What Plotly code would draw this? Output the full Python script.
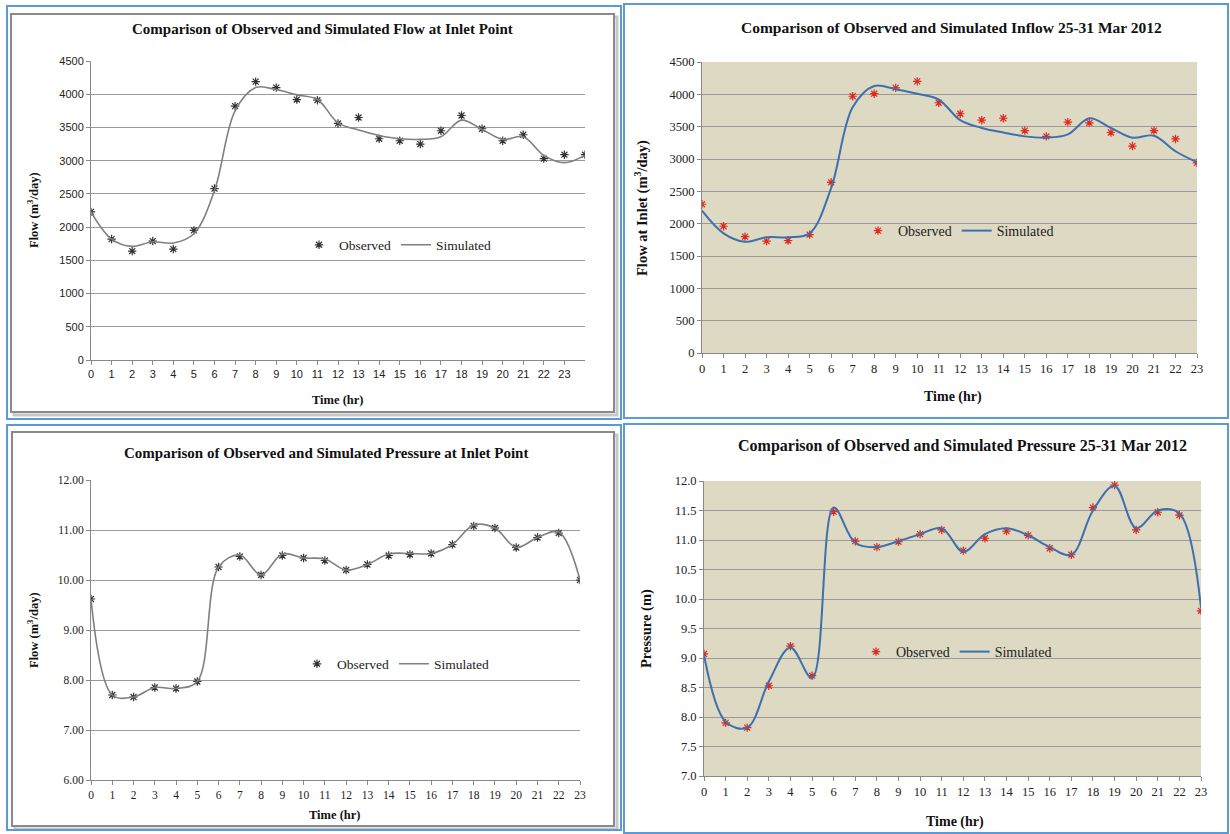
import plotly.graph_objects as go

W, H = 1230, 834

# ---------------- data ----------------
hours_p1 = list(range(0, 25))
flow1_obs = [2230, 1820, 1640, 1790, 1670, 1950, 2580, 3820, 4190, 4100, 3920, 3910,
             3560, 3650, 3330, 3300, 3250, 3450, 3680, 3480, 3300, 3390, 3030, 3090, 3090]
flow1_sim = [2230, 1820, 1710, 1780, 1760, 1900, 2550, 3750, 4100, 4070, 3990, 3920,
             3570, 3460, 3380, 3330, 3320, 3360, 3610, 3470, 3320, 3360, 3080, 2970, 3080]

hours = list(range(0, 24))
flow2_obs = [2300, 1960, 1800, 1730, 1740, 1830, 2640, 3970, 4010, 4100, 4200, 3870,
             3700, 3600, 3630, 3440, 3350, 3570, 3560, 3410, 3200, 3440, 3310, 2940]
flow2_sim = [2200, 1850, 1720, 1790, 1790, 1850, 2550, 3800, 4130, 4080, 4010, 3920,
             3600, 3480, 3410, 3350, 3330, 3380, 3630, 3480, 3330, 3360, 3120, 2950]

pres1_obs = [9.62, 7.70, 7.66, 7.85, 7.83, 7.97, 10.26, 10.47, 10.10, 10.49, 10.44, 10.39,
             10.20, 10.31, 10.49, 10.51, 10.53, 10.71, 11.08, 11.04, 10.65, 10.85, 10.94, 10.00]
pres1_sim = [9.62, 7.70, 7.66, 7.85, 7.83, 7.97, 10.26, 10.50, 10.10, 10.52, 10.44, 10.42,
             10.20, 10.31, 10.52, 10.53, 10.53, 10.71, 11.10, 11.04, 10.65, 10.85, 10.96, 10.00]

pres2_obs = [9.07, 7.90, 7.82, 8.53, 9.20, 8.70, 11.48, 10.98, 10.88, 10.97, 11.10, 11.17,
             10.82, 11.03, 11.15, 11.08, 10.86, 10.75, 11.55, 11.93, 11.17, 11.47, 11.42, 9.80]
pres2_sim = [9.05, 7.92, 7.82, 8.60, 9.18, 8.66, 11.55, 10.95, 10.88, 10.98, 11.10, 11.20,
             10.80, 11.10, 11.20, 11.08, 10.88, 10.75, 11.50, 11.92, 11.20, 11.50, 11.45, 9.85]

titles = ["Comparison of Observed and Simulated Flow at Inlet Point",
          "Comparison of Observed and Simulated Inflow 25-31 Mar 2012",
          "Comparison of Observed and Simulated Pressure at Inlet Point",
          "Comparison of Observed and Simulated Pressure 25-31 Mar 2012"]
ytitles = ["Flow (m<sup>3</sup>/day)", "Flow at Inlet (m<sup>3</sup>/day)",
           "Flow (m<sup>3</sup>/day)", "Pressure (m)"]
xtitle = "Time (hr)"


def px(x):
    return x / W


def py(y):
    return 1 - y / H


SERIF = "Liberation Serif"
SANS = "Liberation Sans"
GRAY_LINE = "#7F7F7F"
BLUE_LINE = "#3E6FAE"
RED = "#E0281E"
TAN = "#DDD9C3"
LIGHT = "#F2F2F2"

fig = go.Figure()

panels = [
    dict(x=hours_p1, obs=flow1_obs, sim=flow1_sim, xr=[0, 24], yr=[0, 4500], dt=500,
         dom_x=(91, 585), dom_y=(61, 360), bg=LIGHT, lc=GRAY_LINE, mc="#333333", lw=1.6,
         tickfont=SANS, tfs=11, fmt="d", leg=(299, 245), lfs=13.5,
         ts=15, yts=12.5, xts=12.5),
    dict(x=hours, obs=flow2_obs, sim=flow2_sim, xr=[0, 23], yr=[0, 4500], dt=500,
         dom_x=(702, 1197), dom_y=(62, 353), bg=TAN, lc=BLUE_LINE, mc=RED, lw=2,
         tickfont=SERIF, tfs=12.5, fmt="d", leg=(858, 231), lfs=14,
         ts=15.5, yts=14.5, xts=14),
    dict(x=hours, obs=pres1_obs, sim=pres1_sim, xr=[0, 23], yr=[6, 12], dt=1,
         dom_x=(91, 580), dom_y=(480, 780), bg=LIGHT, lc=GRAY_LINE, mc="#333333", lw=1.6,
         tickfont=SERIF, tfs=11.5, fmt=".2f", leg=(297, 664), lfs=13.5,
         ts=15, yts=12.5, xts=12.5),
    dict(x=hours, obs=pres2_obs, sim=pres2_sim, xr=[0, 23], yr=[7, 12], dt=0.5,
         dom_x=(704, 1201), dom_y=(481, 776), bg=TAN, lc=BLUE_LINE, mc=RED, lw=2,
         tickfont=SERIF, tfs=12.5, fmt=".1f", leg=(856, 652), lfs=14,
         ts=16, yts=14.5, xts=14),
]

title_pos = [(322, 29), (951, 27), (326, 453), (962, 446)]
ytitle_pos = [(33, 210), (641, 208), (33, 630), (646, 628)]
xtitle_pos = [(338, 400), (953, 397), (335, 815), (955, 822)]

for i, p in enumerate(panels):
    n = "" if i == 0 else str(i + 1)
    legname = "legend" if i == 0 else "legend" + str(i + 1)
    fig.add_trace(go.Scatter(
        x=p["x"], y=p["obs"], mode="markers", name="Observed",
        marker=dict(symbol="asterisk-open", size=7, color=p["mc"],
                    line=dict(color=p["mc"], width=1.2)),
        xaxis="x" + n, yaxis="y" + n, legend=legname))
    fig.add_trace(go.Scatter(
        x=p["x"], y=p["sim"], mode="lines", name="Simulated",
        line=dict(color=p["lc"], width=p["lw"], shape="spline", smoothing=1.0),
        xaxis="x" + n, yaxis="y" + n, legend=legname))

    fig.layout["xaxis" + n] = dict(
        domain=[px(p["dom_x"][0]), px(p["dom_x"][1])], range=p["xr"],
        anchor="y" + n, tickvals=list(range(0, 24)), ticks="outside", ticklen=4,
        tickcolor="#888888", showline=True, linecolor="#888888", linewidth=1,
        showgrid=False, zeroline=False, fixedrange=True, automargin=False,
        tickfont=dict(family=p["tickfont"], size=p["tfs"], color="#222222"))
    fig.layout["yaxis" + n] = dict(
        domain=[py(p["dom_y"][1]), py(p["dom_y"][0])], range=p["yr"],
        anchor="x" + n, dtick=p["dt"], tick0=p["yr"][0], tickformat=p["fmt"],
        ticks="outside", ticklen=4, tickcolor="#888888",
        showline=True, linecolor="#888888", linewidth=1, automargin=False,
        showgrid=True, gridcolor="#9A9A9A", gridwidth=1, zeroline=False, fixedrange=True,
        tickfont=dict(family=p["tickfont"], size=p["tfs"], color="#222222"))
    fig.layout[legname] = dict(
        x=px(p["leg"][0]), y=py(p["leg"][1]), xanchor="left", yanchor="middle",
        orientation="h", bgcolor="rgba(0,0,0,0)",
        font=dict(family=SERIF, size=p["lfs"], color="#222222"), itemwidth=30,
        tracegroupgap=0)

    # plot-area background
    fig.add_shape(type="rect", xref="paper", yref="paper", layer="below",
                  x0=px(p["dom_x"][0]), x1=px(p["dom_x"][1]),
                  y0=py(p["dom_y"][1]), y1=py(p["dom_y"][0]),
                  fillcolor=p["bg"], line=dict(width=0))

    fig.add_annotation(text="<b>" + titles[i] + "</b>", x=px(title_pos[i][0]),
                       y=py(title_pos[i][1]), xref="paper", yref="paper",
                       xanchor="center", yanchor="middle",
                       showarrow=False, font=dict(family=SERIF, size=p["ts"], color="#111111"))
    fig.add_annotation(text="<b>" + ytitles[i] + "</b>", x=px(ytitle_pos[i][0]),
                       y=py(ytitle_pos[i][1]), xref="paper", yref="paper", textangle=-90,
                       xanchor="center", yanchor="middle",
                       showarrow=False, font=dict(family=SERIF, size=p["yts"], color="#111111"))
    fig.add_annotation(text="<b>" + xtitle + "</b>", x=px(xtitle_pos[i][0]),
                       y=py(xtitle_pos[i][1]), xref="paper", yref="paper",
                       xanchor="center", yanchor="middle",
                       showarrow=False, font=dict(family=SERIF, size=p["xts"], color="#111111"))

# frames
blue_frames = [(7, 6, 621, 419), (624, 4, 1228, 418), (7, 425, 621, 830), (624, 424, 1228, 833)]
for (x0, y0, x1, y1) in blue_frames:
    fig.add_shape(type="rect", xref="paper", yref="paper", x0=px(x0), x1=px(x1),
                  y0=py(y1), y1=py(y0), line=dict(color="#5B9BD5", width=2),
                  fillcolor="rgba(0,0,0,0)", layer="above")
gray_frames = [(11, 14, 614, 412), (12, 432, 614, 826)]
for (x0, y0, x1, y1) in gray_frames:
    fig.add_shape(type="rect", xref="paper", yref="paper", x0=px(x0 + 3), x1=px(x1 + 3),
                  y0=py(y1 + 3), y1=py(y0 + 3), line=dict(color="#C8C8C8", width=3),
                  fillcolor="rgba(0,0,0,0)", layer="below")
    fig.add_shape(type="rect", xref="paper", yref="paper", x0=px(x0), x1=px(x1),
                  y0=py(y1), y1=py(y0), line=dict(color="#8A8A8A", width=2),
                  fillcolor="white", layer="below")

fig.update_layout(width=W, height=H,
                  margin=dict(l=0, r=0, t=0, b=0, pad=0, autoexpand=False),
                  paper_bgcolor="white", plot_bgcolor="rgba(0,0,0,0)")

post = ("document.documentElement.style.margin='0';"
        "document.documentElement.style.overflow='hidden';"
        "document.body.style.margin='0';"
        "document.body.style.overflow='hidden';"
        "var gd=document.getElementById('{plot_id}');"
        "gd.style.position='fixed';gd.style.left='0px';gd.style.top='0px';")

fig.write_html("out.html", post_script=post,
               config={"displayModeBar": False})
